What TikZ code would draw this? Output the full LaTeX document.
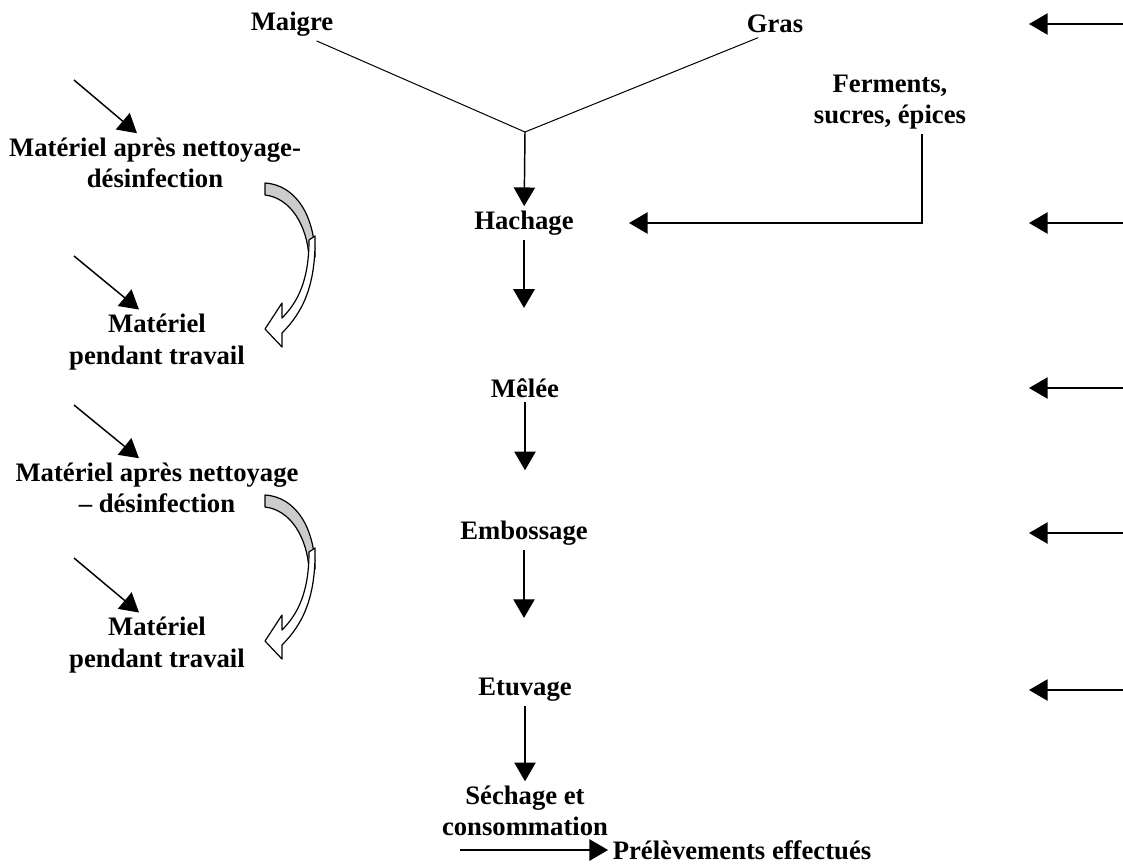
\documentclass[tikz,border=0pt]{standalone}
\usepackage{fontspec}
\setmainfont{Liberation Serif}
\usetikzlibrary{arrows.meta}
\begin{document}
\begin{tikzpicture}[x=0.75pt,y=-0.75pt,>={Triangle[length=14pt,width=16pt]},font=\fontsize{20}{23.5}\selectfont\bfseries,
	flow/.style={->,line width=1.1pt},
	fine/.style={line width=0.75pt},
	bande/.style={draw=black,line width=0.9pt,line join=round}]
	\useasboundingbox (0,0) rectangle (1123,865);
	\node (maigre) at (292,24) {Maigre};
	\node (gras) at (775,24) {Gras};
	\coordinate (j) at (525,132);
	\node (hach) at (524,223) {Hachage};
	\node (melee) at (525,388) {Mêlée};
	\node (emboss) at (524,533) {Embossage};
	\node (etuv) at (525,690) {Etuvage};
	\node[align=center] (sechage) at (525,811) {Séchage et\\consommation};
	\node[align=center] (ferm) at (890,102) {Ferments,\\sucres, épices};
	\coordinate (coin) at (922,223);
	\coordinate (fin) at (629,223);
	\node[align=center] (m1) at (155,163) {Matériel après nettoyage-\\désinfection};
	\node[align=center] (m2) at (157,342) {Matériel\\pendant travail};
	\node[align=center] (m3) at (157,488) {Matériel après nettoyage\\– désinfection};
	\node[align=center] (m4) at (157,645) {Matériel\\pendant travail};
	\node (prel) at (742,850) {Prélèvements effectués};
	\coordinate (rd) at (1123,0);
	\coordinate (rg) at (1029,0);
	\draw[fine] ([xshift=-16pt]maigre.south east) -- (j) -- ([xshift=12pt]gras.south west);
	\draw[flow] (j) -- (hach);
	\foreach \n in {hach,melee,emboss} \draw[flow] (\n.south) -- ++(0,68);
	\draw[flow] (etuv) -- (sechage);
	\draw[flow] (ferm.south -| coin) -- (coin) -- (fin);
	\foreach \n in {maigre,hach,melee,emboss,etuv} \draw[flow] (\n -| rd) -- (\n -| rg);
	\foreach \m/\y in {m1/80,m2/256,m3/405,m4/558} \draw[flow] (74,\y) -- ([xshift=-13.5pt]\m.north);
	\draw[flow] ([xshift=-111pt]prel.west) -- (prel.west);
	\foreach \dy in {0,312} {
		\begin{scope}[shift={(0,\dy)}]
			\filldraw[bande,fill=gray!40] (265,183) .. controls (297,185) and (315,218) .. (315,257) -- (309,257) .. controls (307,226) and (291,198) .. (265,195) -- cycle;
			\filldraw[bande,fill=white] (315,236) .. controls (316,285) and (303,312) .. (282,333) -- (282,347) -- (265,329) -- (282,303) -- (282,318) .. controls (298,302) and (309,280) .. (309,240) -- cycle;
		\end{scope}
	}
\end{tikzpicture}
\end{document}
